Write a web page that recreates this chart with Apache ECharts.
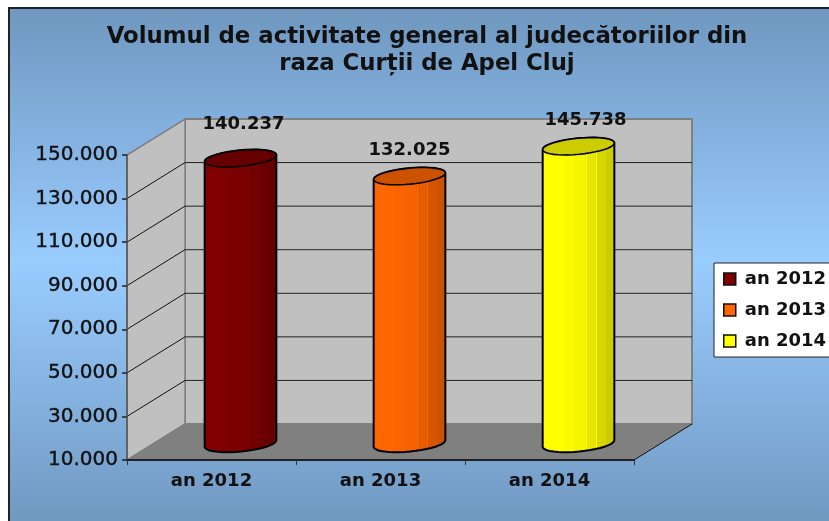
<!DOCTYPE html>
<html>
<head>
<meta charset="utf-8">
<style>html,body{margin:0;padding:0;background:#fff}#c{width:829px;height:521px}</style>
<script src="https://cdn.jsdelivr.net/npm/echarts@6/dist/echarts.min.js"></script>
</head>
<body>
<div id="c"></div>
<script>
const categories = ['an 2012', 'an 2013', 'an 2014'];
const values = [140237, 132025, 145738];
const colors = ['#800000', '#FF6600', '#FFFF00'];
const yTicks = [10000, 30000, 50000, 70000, 90000, 110000, 130000, 150000];
const titleText = 'Volumul de activitate general al judecătoriilor din\nraza Curții de Apel Cluj';

// layout constants for the fake 3D box
const DEPTH_X = 58, DEPTH_Y = -36;
const CYL_RX = 36, CYL_RY = 8, CYL_TILT = -5.5 * Math.PI / 180;
const LABEL_NUDGE = [[3, -7], [0, 1], [7, 1]];
const FONT = '"DejaVu Sans", sans-serif';

const fmt = v => String(v).replace(/\B(?=(\d{3})+$)/g, '.');
function shade(hex, f) {
  const n = parseInt(hex.slice(1), 16);
  const c = [n >> 16, (n >> 8) & 255, n & 255].map(x => Math.min(255, Math.round(x * f)));
  return 'rgb(' + c.join(',') + ')';
}
function bodyStops(hex) {
  const bands = [[0, 1], [.13, 1.1], [.145, 1], [.3, .98], [.45, .96], [.59, .93], [.605, 1.05], [.62, .9], [.72, .87], [.735, 1], [.75, .84], [.88, .8], [1, .75]];
  const out = [];
  bands.forEach((b, i) => {
    const end = i + 1 < bands.length ? bands[i + 1][0] : 1;
    out.push({ offset: b[0], color: shade(hex, b[1]) }, { offset: end, color: shade(hex, b[1]) });
  });
  return out;
}
function ellipsePoint(cx, cy, t) {
  const x = CYL_RX * Math.cos(t), y = CYL_RY * Math.sin(t);
  return [cx + x * Math.cos(CYL_TILT) - y * Math.sin(CYL_TILT),
          cy + x * Math.sin(CYL_TILT) + y * Math.cos(CYL_TILT)];
}
function arc(cx, cy, from, to, steps) {
  const pts = [];
  for (let i = 0; i <= steps; i++) pts.push(ellipsePoint(cx, cy, from + (to - from) * i / steps));
  return pts;
}

function renderWalls(params, api) {
  const r = params.coordSys;
  const L = r.x, R = r.x + r.width, T = r.y, B = r.y + r.height;
  const dx = DEPTH_X, dy = DEPTH_Y;
  return { type: 'group', children: [
    { type: 'polygon', shape: { points: [[L + dx, T + dy], [R + dx, T + dy], [R + dx, B + dy], [L + dx, B + dy]] },
      style: { fill: '#C0C0C0', stroke: '#808080', lineWidth: 2 } },
    { type: 'polygon', shape: { points: [[L, T], [L + dx, T + dy], [L + dx, B + dy], [L, B]] },
      style: { fill: '#C0C0C0', stroke: '#808080', lineWidth: 1.5 } },
    { type: 'polygon', shape: { points: [[L, B], [L + dx, B + dy], [R + dx, B + dy], [R, B]] },
      style: { fill: '#808080' } },
    { type: 'line', shape: { x1: R, y1: B, x2: R + dx, y2: B + dy }, style: { stroke: '#111', lineWidth: 1 } }
  ] };
}
function renderGrid(params, api) {
  const r = params.coordSys;
  const v = api.value(0);
  const children = [];
  if (v !== yTicks[0] && v !== yTicks[yTicks.length - 1]) {
    const y = api.coord([0, v])[1];
    const L = r.x, R = r.x + r.width;
    children.push({ type: 'line', shape: { x1: L, y1: y, x2: L + DEPTH_X, y2: y + DEPTH_Y }, style: { stroke: '#111', lineWidth: 1 } });
    children.push({ type: 'line', shape: { x1: L + DEPTH_X, y1: y + DEPTH_Y, x2: R + DEPTH_X, y2: y + DEPTH_Y }, style: { stroke: '#222', lineWidth: 1 } });
  }
  return { type: 'group', children };
}
function renderCylinder(params, api) {
  const idx = api.value(0), v = api.value(1);
  const top = api.coord([idx, v]);
  const base = api.coord([idx, yTicks[0]]);
  const cx = top[0] + DEPTH_X / 2;
  const yTop = top[1] + DEPTH_Y / 2;
  const yBase = base[1] + DEPTH_Y / 2 + 1.5;
  const hex = colors[idx];
  const body = arc(cx, yTop, Math.PI, 2 * Math.PI, 20).concat(arc(cx, yBase, 0, Math.PI, 20));
  const cap = arc(cx, yTop, 0, 2 * Math.PI, 40);
  const nudge = LABEL_NUDGE[idx];
  return { type: 'group', children: [
    { type: 'polygon', shape: { points: body },
      style: { fill: { type: 'linear', x: 0, y: 0, x2: 1, y2: 0, colorStops: bodyStops(hex) }, stroke: '#000', lineWidth: 2 } },
    { type: 'polygon', shape: { points: cap },
      style: { fill: shade(hex, .8), stroke: '#000', lineWidth: 1.6 } },
    { type: 'text', x: cx + nudge[0], y: yTop - 27 + nudge[1],
      style: { text: fmt(v), fill: '#111', font: 'bold 18px ' + FONT, textAlign: 'center', textVerticalAlign: 'middle' } }
  ] };
}

const cylinderSeries = categories.map((name, i) => ({
  type: 'custom', name, z: 5, silent: true,
  renderItem: renderCylinder,
  itemStyle: { color: colors[i] },
  encode: { x: 0, y: 1 },
  data: [[i, values[i]]]
}));

const chart = echarts.init(document.getElementById('c'), null, { renderer: 'canvas' });
chart.setOption({
  animation: false,
  backgroundColor: '#fff',
  graphic: [{
    type: 'rect', z: -10, silent: true,
    shape: { x: 9, y: 8, width: 840, height: 540 },
    style: {
      fill: { type: 'linear', x: 0, y: 0, x2: 0, y2: 1, global: false,
        colorStops: [{ offset: 0, color: '#6F97BF' }, { offset: .47, color: '#99CCFF' }, { offset: .97, color: '#6F97BF' }, { offset: 1, color: '#6F97BF' }] },
      stroke: '#222', lineWidth: 2
    }
  }],
  title: {
    text: titleText, left: 422, top: 19, textAlign: 'center',
    textStyle: { fontFamily: FONT, fontWeight: 'bold', fontSize: 22.8, lineHeight: 27, color: '#111' }
  },
  legend: {
    orient: 'vertical', left: 714, top: 263,
    data: categories,
    icon: 'rect', itemWidth: 12, itemHeight: 12, itemGap: 13,
    padding: [7, 12, 7, 9],
    backgroundColor: '#fff', borderColor: '#222', borderWidth: 1,
    itemStyle: { borderColor: '#111', borderWidth: 1.5 },
    textStyle: { fontFamily: FONT, fontWeight: 'bold', fontSize: 18, color: '#111', padding: [0, 0, 0, 4] }
  },
  grid: { left: 127, top: 155, width: 507, height: 305, containLabel: false },
  xAxis: {
    type: 'category', data: categories, z: 6,
    axisLine: { lineStyle: { color: '#222', width: 2 } },
    axisTick: { show: true, alignWithLabel: false, length: 5, lineStyle: { color: '#333', width: 1 } },
    axisLabel: { interval: 0, margin: 12, fontFamily: FONT, fontWeight: 'bold', fontSize: 18, color: '#111' },
    splitLine: { show: false }
  },
  yAxis: {
    type: 'value', min: yTicks[0], max: yTicks[yTicks.length - 1], z: 6,
    axisLine: { show: true, lineStyle: { color: '#555', width: 1.5 } },
    axisTick: { show: true, length: 5, customValues: yTicks, lineStyle: { color: '#222', width: 1.5 } },
    axisLabel: { customValues: yTicks, margin: 9, formatter: fmt, fontFamily: FONT, fontSize: 20, color: '#111', textBorderColor: '#111', textBorderWidth: 0.4 },
    splitLine: { show: false }
  },
  series: [
    { type: 'custom', name: 'walls', z: 1, silent: true, renderItem: renderWalls, data: [[0, yTicks[0]]], encode: { x: 0, y: 1 } },
    { type: 'custom', name: 'grid', z: 2, silent: true, renderItem: renderGrid, data: yTicks.map(v => [v]), encode: { y: 0 } }
  ].concat(cylinderSeries)
});
</script>
</body>
</html>
